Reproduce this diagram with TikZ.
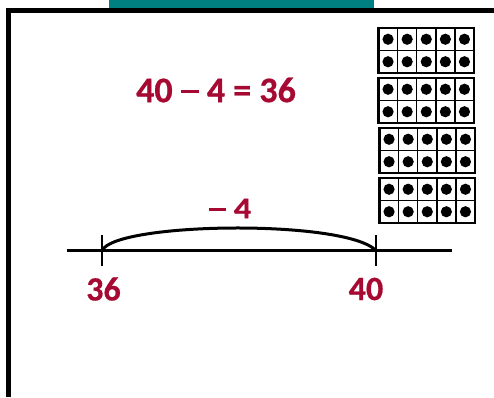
\documentclass[tikz,border=0pt]{standalone}
\usepackage{fontspec}
\setmainfont{Carlito}[BoldFeatures={FakeBold=0.6}]
\definecolor{numred}{RGB}{166,10,50}
\definecolor{tealbar}{RGB}{0,128,128}
\newcommand{\rdash}{\rule[0.25em]{0.5em}{0.09em}}
\tikzset{
  redlabel/.style={text=numred, font=\bfseries, inner sep=0pt, anchor=center},
  frameouter/.style={draw=black, line width=2.2pt},
  frameinner/.style={draw=black, line width=1.4pt},
  dotstyle/.style={fill=black},
  numline/.style={line width=3.2pt},
  tickline/.style={line width=2.8pt},
  arcline/.style={line width=3pt},
  border/.style={line width=5pt}
}
\begin{document}
\begin{tikzpicture}[x=1pt,y=-1pt]
\useasboundingbox (0,0) rectangle (494,397);
% teal bar
\fill[tealbar] (109,0) rectangle (374,8);
% border
\draw[border] (8,397) -- (8,10.5) -- (494,10.5);
% equation
\node[redlabel, font=\bfseries\fontsize{36}{40}\selectfont] (eq) at (216,90) {40 \rdash{} 4 = 36};
% ten frames
\foreach \fx/\fy in {378.5/28, 378.5/78, 379.5/128, 379.5/178}{
  \foreach \i in {1,...,4}{
    \draw[frameinner] (\fx+\i*19.1,\fy) -- (\fx+\i*19.1,\fy+45);
  }
  \draw[frameinner] (\fx,\fy+22.5) -- (\fx+95.5,\fy+22.5);
  \foreach \i in {0,...,4}{
    \foreach \j in {0,1}{
      \fill[dotstyle] (\fx+9.55+\i*19.1,\fy+11.25+\j*22.5) circle (5.6);
    }
  }
  \draw[frameouter] (\fx,\fy) rectangle (\fx+95.5,\fy+45);
}
% number line
\coordinate (lineL) at (67,250.5);
\coordinate (lineR) at (452,250.5);
\coordinate (t36) at (102,250.5);
\coordinate (t40) at (376,250.5);
\draw[numline] (lineL) -- (lineR);
\draw[tickline] ([yshift=-15]t36) -- ([yshift=16]t36);
\draw[tickline] ([yshift=-15]t40) -- ([yshift=16]t40);
\draw[arcline] (t36) .. controls (116,222) and (345,219) .. (t40);
% labels
\node[redlabel, font=\bfseries\fontsize{34}{38}\selectfont] (l36) at (103.5,289) {36};
\node[redlabel, font=\bfseries\fontsize{34}{38}\selectfont] (l40) at (366,289) {40};
\node[redlabel, font=\bfseries\fontsize{30}{34}\selectfont, xscale=1.15] (minus) at (230,208.5) {\rdash{} 4};
\end{tikzpicture}
\end{document}
